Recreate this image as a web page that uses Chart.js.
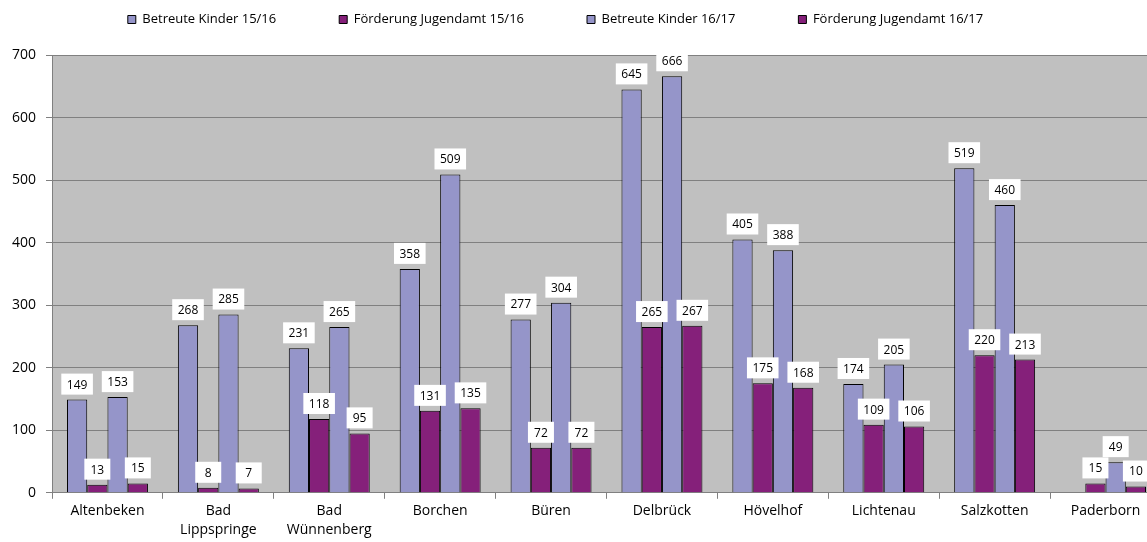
<!DOCTYPE html>
<html lang="de">
<head>
  <meta charset="UTF-8" />
  <title>Betreute Kinder und Förderung Jugendamt</title>
  <script src="https://cdn.jsdelivr.net/npm/chart.js"></script>
  <style>
    html, body { margin: 0; padding: 0; background: #fff; }
    /* plot runs a bit past the right edge in the original, so the canvas is wider and clipped */
    #wrap { width: 1147px; height: 542px; overflow: hidden; }
  </style>
</head>
<body>
  <div id="wrap">
    <canvas id="chart" width="1165" height="542"></canvas>
  </div>

  <script>
    // Daten
    const gemeinden = ['Altenbeken', ['Bad', 'Lippspringe'], ['Bad', 'Wünnenberg'], 'Borchen', 'Büren',
                       'Delbrück', 'Hövelhof', 'Lichtenau', 'Salzkotten', 'Paderborn'];
    const betreut1516 = [149, 268, 231, 358, 277, 645, 405, 174, 519, null];
    const foerderung1516 = [13, 8, 118, 131, 72, 265, 175, 109, 220, 15];
    const betreut1617 = [153, 285, 265, 509, 304, 666, 388, 205, 460, 49];
    const foerderung1617 = [15, 7, 95, 135, 72, 267, 168, 106, 213, 10];
    const yTicks = [0, 100, 200, 300, 400, 500, 600, 700];

    const hellblau = '#9595C9';
    const lila = '#85207A';
    const fontFam = "'Open Sans', sans-serif";

    // grauer Hintergrund im Plotbereich
    const plotBg = {
      id: 'plotBg',
      beforeDraw(chart) {
        const a = chart.chartArea, ctx = chart.ctx;
        ctx.save();
        ctx.fillStyle = '#C0C0C0';
        ctx.fillRect(a.left, a.top, a.right - a.left, a.bottom - a.top);
        ctx.restore();
      }
    };

    // Legende nach oben schieben (grosses padding = weite Abstaende)
    const legendPos = {
      id: 'legendPos',
      afterLayout(chart) {
        const lg = chart.legend;
        const p = lg.options.labels.padding;
        lg.top = 13 - p;
        lg.left -= 26;
        lg.right -= 26;
      }
    };

    // Werte in weissen Kaestchen ueber den Balken
    const wertLabels = {
      id: 'wertLabels',
      afterDatasetsDraw(chart) {
        const ctx = chart.ctx;
        ctx.save();
        ctx.font = '12px ' + fontFam;
        ctx.textAlign = 'center';
        ctx.textBaseline = 'middle';
        chart.data.datasets.forEach((ds, i) => {
          const meta = chart.getDatasetMeta(i);
          meta.data.forEach((bar, j) => {
            const v = ds.data[j];
            if (v === null || v === undefined) return;
            const txt = String(v);
            const w = Math.max(ctx.measureText(txt).width + 11, 26);
            const h = 21;
            const yb = bar.y - 5;
            ctx.fillStyle = '#fff';
            ctx.fillRect(bar.x - w / 2, yb - h, w, h);
            ctx.fillStyle = '#000';
            ctx.fillText(txt, bar.x, yb - h / 2 + 1);
          });
        });
        ctx.restore();
      }
    };

    const ctx = document.getElementById('chart').getContext('2d');
    new Chart(ctx, {
      type: 'bar',
      data: {
        labels: gemeinden,
        datasets: [
          { label: 'Betreute Kinder 15/16', data: betreut1516, backgroundColor: hellblau },
          { label: 'Förderung Jugendamt 15/16', data: foerderung1516, backgroundColor: lila },
          { label: 'Betreute Kinder 16/17', data: betreut1617, backgroundColor: hellblau },
          { label: 'Förderung Jugendamt 16/17', data: foerderung1617, backgroundColor: lila }
        ]
      },
      options: {
        responsive: false,
        animation: false,
        datasets: {
          bar: {
            borderColor: '#000',
            borderWidth: 1,
            barPercentage: 1,
            categoryPercentage: 0.73
          }
        },
        layout: { padding: { top: 10, left: 2, right: 4, bottom: 0 } },
        plugins: {
          legend: {
            position: 'top',
            maxHeight: 45,
            labels: {
              boxWidth: 8,
              boxHeight: 8,
              padding: 63,
              color: '#000',
              font: { family: fontFam, size: 13 }
            }
          },
          tooltip: { enabled: false }
        },
        scales: {
          x: {
            grid: {
              display: true,
              drawOnChartArea: false,
              drawTicks: true,
              tickLength: 6,
              color: '#808080',
              offset: true
            },
            border: { color: '#808080' },
            ticks: {
              color: '#000',
              autoSkip: false,
              maxRotation: 0,
              padding: 2,
              font: { family: fontFam, size: 14, lineHeight: 1.4 }
            }
          },
          y: {
            min: 0,
            max: 700,
            afterBuildTicks(axis) { axis.ticks = yTicks.map(v => ({ value: v })); },
            grid: { color: '#808080', tickLength: 6 },
            border: { color: '#808080' },
            ticks: {
              color: '#000',
              padding: 10,
              font: { family: fontFam, size: 14 }
            }
          }
        }
      },
      plugins: [plotBg, legendPos, wertLabels]
    });
  </script>
</body>
</html>
